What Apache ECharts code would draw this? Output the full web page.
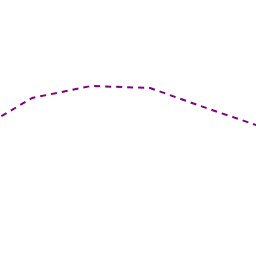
<!DOCTYPE html>
<html><head><meta charset="utf-8">
<script src="https://cdn.jsdelivr.net/npm/echarts@6/dist/echarts.min.js"></script>
<style>html,body{margin:0;padding:0;background:#fff}#c{width:256px;height:256px}</style>
</head><body><div id="c"></div>
<script>
var xs = [0, 1, 2, 3, 4, 5];
var values = [123, 158, 170, 168, 147, 127];
var chart = echarts.init(document.getElementById('c'), null, {renderer:'canvas'});
chart.setOption({
  animation: false,
  grid: {left:0, right:0, top:0, bottom:0},
  xAxis: {type:'value', min:0.458, max:4.797, show:false},
  yAxis: {type:'value', min:0, max:256, show:false},
  series: [{
    type:'line',
    data: xs.map(function(x,i){return [x, values[i]];}),
    showSymbol:false,
    clip:true,
    lineStyle:{color:'#800080', width:2, type:[6,5]}
  }]
});
</script></body></html>
